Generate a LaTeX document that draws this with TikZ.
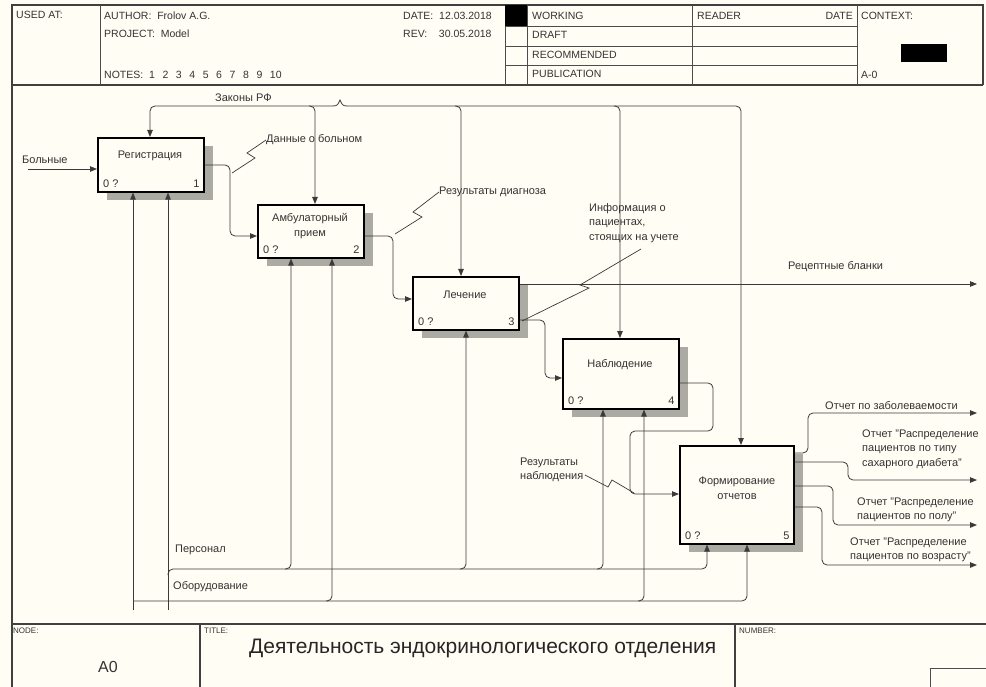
\documentclass[tikz,border=0pt]{standalone}
\usepackage{fontspec}
\setmainfont{Liberation Sans}
\usetikzlibrary{arrows.meta,calc,shadows}
\definecolor{bg}{HTML}{FFFDF4}
\definecolor{ln}{HTML}{3A3A3A}
\definecolor{shd}{HTML}{ABABA4}
\definecolor{tx}{HTML}{333333}
\begin{document}
\begin{tikzpicture}[x=1pt,y=-1pt,
 every node/.style={inner sep=0pt, text=tx, font=\fontsize{11}{14.5}\selectfont},
 hdr/.style={anchor=west, font=\fontsize{10.5}{12}\selectfont},
 tiny/.style={anchor=west, font=\fontsize{8}{9}\selectfont},
 frm/.style={draw=black!75, line width=1.1pt},
 grid/.style={draw=black!70, line width=0.7pt},
 conn/.style={draw=ln, line width=0.8pt, rounded corners=5pt},
 arr/.style={conn, -{Triangle[length=7pt,width=5.5pt]}},
 lead/.style={draw=ln, line width=0.7pt},
 abox/.style={draw=black, line width=1.6pt, fill=bg, anchor=north west, rectangle, inner sep=0pt,
   drop shadow={shadow xshift=9pt, shadow yshift=-8pt, fill=shd, opacity=1}},
 lbl/.style={anchor=west, align=left},
 ttl/.style={align=center},
]
\fill[bg] (0,0) rectangle (986,687);
\useasboundingbox (0,0) rectangle (986,687);

% ---------- header ----------
\draw[frm] (12,687) -- (12,5) -- (983,5) -- (983,85);
\draw[frm] (12,85) -- (983,85);
\foreach \xx in {100,505,527,692,857} \draw[grid] (\xx,5) -- (\xx,85);
\foreach \yy in {26,46,65} \draw[grid] (505,\yy) -- (857,\yy);
\fill[black] (505,5) rectangle (527,26);
\fill[black] (901,44) rectangle (947,62);
\node[hdr] (usedat) at (16,15) {USED AT:};
\node[hdr] (author) at (104,16) {AUTHOR:\ \ Frolov A.G.};
\node[hdr] (project) at (104,34) {PROJECT:\ \ Model};
\node[hdr] (notes) at (104,75) {NOTES:\ \ 1\ \ \,2\ \ \,3\ \ \,4\ \ \,5\ \ \,6\ \ \,7\ \ \,8\ \ \,9\ \ \,10};
\node[hdr] (date) at (403,16) {DATE:\ \ 12.03.2018};
\node[hdr] (rev) at (403,34) {REV:\ \ \ \ 30.05.2018};
\node[hdr] (working) at (532,16) {WORKING};
\node[hdr] (draft) at (532,35) {DRAFT};
\node[hdr] (recomm) at (532,55) {RECOMMENDED};
\node[hdr] (public) at (532,74) {PUBLICATION};
\node[hdr] (reader) at (697,16) {READER};
\node[hdr, anchor=east] (rdate) at (853,16) {DATE};
\node[hdr] (context) at (861,16) {CONTEXT:};
\node[hdr] (a0ctx) at (861,75) {A-0};

% ---------- footer ----------
\draw[frm] (12,624) -- (986,624);
\draw[frm] (200,624) -- (200,687);
\draw[frm] (735,624) -- (735,687);
\draw[grid] (930,687) -- (930,668) -- (986,668);
\node[tiny] (nodel) at (13,631) {NODE:};
\node[font=\fontsize{16}{18}\selectfont] (nodev) at (108,667) {A0};
\node[tiny] (titlel) at (204,631) {TITLE:};
\node[anchor=west, font=\fontsize{21}{24}\selectfont, text=black!85] (title) at (249,648) {Деятельность эндокринологического отделения};
\node[tiny] (numl) at (739,631) {NUMBER:};

% ---------- activity boxes ----------
\node[abox, minimum width=106pt, minimum height=54pt] (b1) at (97,137) {};
\node[abox, minimum width=106pt, minimum height=53pt] (b2) at (257,204) {};
\node[abox, minimum width=106pt, minimum height=53pt] (b3) at (412,276) {};
\node[abox, minimum width=116pt, minimum height=70pt] (b4) at (562,338) {};
\node[abox, minimum width=114pt, minimum height=98pt] (b5) at (679,445) {};

\node[ttl] (t1) at (150,156) {Регистрация};
\node[ttl] (t2) at (310,226) {Амбулаторный\\прием};
\node[ttl] (t3) at (465,295) {Лечение};
\node[ttl] (t4) at (620,365) {Наблюдение};
\node[ttl] (t5) at (737,488) {Формирование\\отчетов};

\foreach \b/\n in {b1/1,b2/2,b3/3,b4/4,b5/5}{
  \node[anchor=west] at ($(\b.south west)+(6,-9)$) {0 ?};
  \node[anchor=east] at ($(\b.south east)+(-5,-9)$) {\n};
}

% ---------- inputs ----------
\coordinate (srcB) at (28,169);
\draw[arr] (srcB) -- (srcB -| b1.west);
\node[lbl] (lbB) at (22,160) {Больные};

% ---------- controls: Законы РФ ----------
\coordinate (lawL) at (333,106);
\coordinate (lawR) at (347,106);
\draw[conn, rounded corners=0pt] (lawL) .. controls (338,106) and (338,104) .. (340,100)
   .. controls (342,104) and (342,106) .. (lawR);
\draw[arr] (lawL) -- (150,106) -- (150,106 |- b1.north);
\draw[arr] (lawR) -- (741,106) -- (741,106 |- b5.north);
\draw[arr] (309,106) -- (315,106) -- (315,106 |- b2.north);
\draw[arr] (455,106) -- (461,106) -- (461,106 |- b3.north);
\draw[arr] (614,106) -- (620,106) -- (620,106 |- b4.north);
\node[lbl] (lbLaw) at (215,98) {Законы РФ};

% ---------- b1 -> b2 ----------
\draw[arr] (b1.east |- 0,165) -- (230,165) -- (230,236) -- (b2.west |- 0,236);
\node[lbl] (lb12) at (266,140) {Данные о больном};
\draw[lead] (lb12.west) -- (247,153) -- (255,158) -- (232,173);

% ---------- b2 -> b3 ----------
\draw[arr] (b2.east |- 0,236) -- (393,236) -- (393,299) -- (b3.west |- 0,299);
\node[lbl] (lb23) at (439,192) {Результаты диагноза};
\draw[lead] (lb23.west) -- (413,212) -- (422,217) -- (395,234);

% ---------- b3 outputs ----------
\coordinate (outRx) at (977,284);
\draw[arr] (b3.east |- outRx) -- (outRx);
\node[lbl] (lbRx) at (788,267) {Рецептные бланки};
\draw[arr] (b3.east |- 0,320) -- (545,320) -- (545,378) -- (b4.west |- 0,378);
\node[lbl, anchor=north west] (lb34) at (589,203) {Информация о\\пациентах,\\стоящих на учете};
\draw[lead] (641,249) -- (580,285) -- (589,288) -- (522,321);

% ---------- b4 -> b5 ----------
\draw[arr] (b4.east |- 0,383) -- (713,383) -- (713,431) -- (630,431) -- (630,494) -- (b5.west |- 0,494);
\node[lbl] (lb45) at (520,470) {Результаты\\наблюдения};
\draw[lead] (585,475) -- (608,487) -- (612,480) -- (634,493);

% ---------- b5 outputs ----------
\coordinate (o1) at (977,413);
\coordinate (o2) at (977,480);
\coordinate (o3) at (977,525);
\coordinate (o4) at (977,565);
\draw[arr] (b5.east |- 0,453) -- (808,453) -- (808,413) -- (o1);
\draw[arr] (b5.east |- 0,462) -- (848,462) -- (848,480) -- (o2);
\draw[arr] (b5.east |- 0,486) -- (833,486) -- (833,525) -- (o3);
\draw[arr] (b5.east |- 0,507) -- (822,507) -- (822,565) -- (o4);
\node[lbl] (lo1) at (825,406) {Отчет по заболеваемости};
\node[lbl] (lo2) at (862,449) {Отчет "Распределение\\пациентов по типу\\сахарного диабета"};
\node[lbl] (lo3) at (857,510) {Отчет "Распределение\\пациентов по полу"};
\node[lbl] (lo4) at (850,550) {Отчет "Распределение\\пациентов по возрасту"};

% ---------- mechanisms ----------
\coordinate (mEq) at (133,610);
\coordinate (mSt) at (168,610);
\draw[arr] (mEq) -- (mEq |- b1.south);
\draw[arr] (mSt) -- (mSt |- b1.south);
% Оборудование
\draw[arr] (133,601) -- (747,601) -- (747,601 |- b5.south);
\draw[arr] (326,601) -- (332,601) -- (332,601 |- b2.south);
\draw[arr] (638,601) -- (644,601) -- (644,601 |- b4.south);
\node[lbl] (lbEq) at (173,587) {Оборудование};
% Персонал
\draw[arr] (168,575) -- (168,569) -- (707,569) -- (707,569 |- b5.south);
\draw[arr] (285,569) -- (291,569) -- (291,569 |- b2.south);
\draw[arr] (460,569) -- (466,569) -- (466,569 |- b3.south);
\draw[arr] (597,569) -- (603,569) -- (603,569 |- b4.south);
\node[lbl] (lbSt) at (175,550) {Персонал};
\end{tikzpicture}
\end{document}
